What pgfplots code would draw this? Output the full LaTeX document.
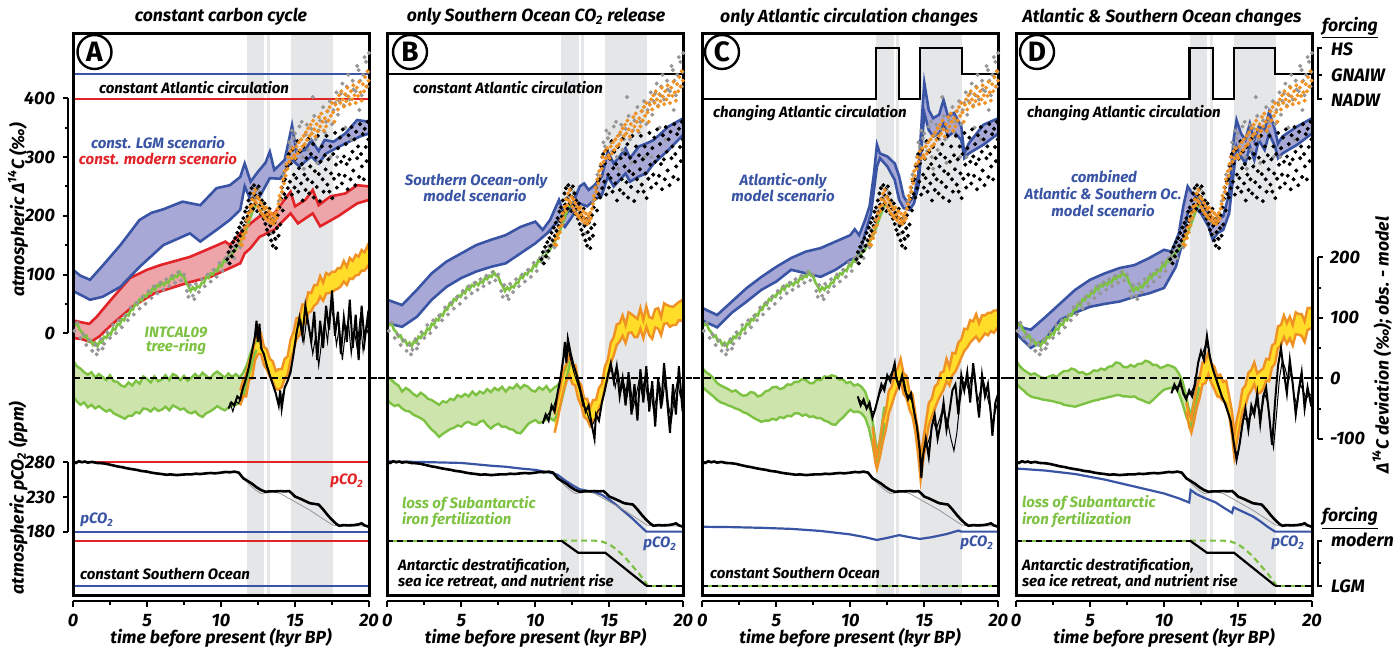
\documentclass[border=0pt]{standalone}
\usepackage{fontspec}
\setmainfont{Fira Sans}
\usepackage{pgfplots}
\pgfplotsset{compat=1.18}
\usepackage{pgfplotstable}
\usepgfplotslibrary{fillbetween}
\definecolor{mblue}{RGB}{57,84,164}
\definecolor{mbluefill}{RGB}{168,168,214}
\definecolor{mred}{RGB}{226,35,40}
\definecolor{mredfill}{RGB}{238,165,170}
\definecolor{mgreen}{RGB}{125,194,66}
\definecolor{mgreenfill}{RGB}{205,228,172}
\definecolor{morange}{RGB}{240,145,35}
\definecolor{myellow}{RGB}{255,221,40}
\definecolor{mgray}{RGB}{150,150,150}
\definecolor{bandgray}{RGB}{229,230,232}
\newcommand\lab{\bfseries\itshape}
\newcommand\ttl{\lab\fontsize{8.8}{9.5}\selectfont}
\newcommand\ann{\lab\fontsize{7.5}{8.5}\selectfont}
\newcommand\tk{\lab\fontsize{9}{10}\selectfont}

\pgfplotstableread[row sep=\\]{x y\\
10.42 126\\ 10.51 138\\ 10.58 119\\ 10.66 147\\ 10.73 131\\ 10.81 155\\ 10.88 140\\ 10.96 162\\ 11.03 149\\ 11.10 171\\ 11.17 158\\ 11.24 180\\ 11.31 166\\ 11.38 188\\ 11.44 174\\ 11.51 196\\ 11.57 183\\ 11.63 207\\ 11.69 191\\ 11.74 214\\ 11.80 199\\ 11.86 226\\ 11.91 207\\ 11.97 238\\ 12.02 219\\ 12.07 247\\ 12.12 229\\ 12.18 212\\ 12.23 252\\ 12.28 236\\ 12.33 221\\ 12.38 245\\ 12.44 208\\ 12.49 232\\ 12.54 250\\ 12.60 217\\ 12.65 238\\ 12.71 203\\ 12.77 226\\ 12.83 212\\ 12.88 195\\ 12.94 221\\ 13.00 186\\ 13.05 205\\ 13.11 176\\ 13.16 198\\ 13.22 168\\ 13.27 212\\ 13.33 183\\ 13.39 158\\ 13.44 194\\ 13.50 149\\ 13.55 172\\ 13.61 188\\ 13.66 161\\ 13.72 145\\ 13.78 179\\ 13.83 201\\ 13.89 166\\ 13.95 214\\ 14.00 185\\ 14.06 229\\ 14.11 248\\ 14.17 209\\ 14.23 259\\ 14.28 237\\
14.32 262\\ 14.38 231\\ 14.47 284\\ 14.52 247\\ 14.58 305\\ 14.66 258\\ 14.71 289\\ 14.79 236\\ 14.83 312\\ 14.92 270\\ 14.97 248\\ 15.04 297\\ 15.09 264\\ 15.16 327\\ 15.22 241\\ 15.27 281\\ 15.33 309\\ 15.41 255\\ 15.46 288\\ 15.52 226\\ 15.58 317\\ 15.63 270\\ 15.71 244\\ 15.77 298\\ 15.84 262\\ 15.89 331\\ 15.96 238\\ 16.03 284\\ 16.08 305\\ 16.16 257\\ 16.22 322\\ 16.27 231\\ 16.34 276\\ 16.41 299\\ 16.47 249\\ 16.55 336\\ 16.61 271\\ 16.68 225\\ 16.73 292\\ 16.81 318\\ 16.87 262\\ 16.93 241\\ 17.01 303\\ 17.07 279\\ 17.13 336\\ 17.19 253\\ 17.26 296\\ 17.32 241\\ 17.39 318\\ 17.44 272\\ 17.52 230\\ 17.58 305\\ 17.64 263\\ 17.71 341\\ 17.77 287\\ 17.83 248\\ 17.91 315\\ 17.97 270\\ 18.04 333\\ 18.11 292\\ 18.17 255\\ 18.23 347\\ 18.31 301\\ 18.36 268\\ 18.43 322\\ 18.49 288\\ 18.56 245\\ 18.62 337\\ 18.69 296\\ 18.75 262\\ 18.82 351\\ 18.88 309\\ 18.94 277\\ 19.01 330\\ 19.07 252\\ 19.13 343\\ 19.20 298\\ 19.26 318\\ 19.33 266\\ 19.39 356\\ 19.46 305\\ 19.52 284\\ 19.58 339\\ 19.65 262\\ 19.71 348\\ 19.78 317\\ 19.84 293\\ 19.90 360\\ 19.96 330\\
}\blackdots
\pgfplotstableread[row sep=\\]{x y\\
10.5 130\\ 10.9 148\\ 11.4 176\\ 11.7 190\\ 11.8 196\\ 12.1 214\\ 12.2 230\\ 12.4 245\\ 12.6 240\\ 12.7 226\\ 12.9 212\\ 13.0 205\\ 13.3 186\\ 13.4 170\\ 13.6 197\\ 13.7 160\\ 13.9 225\\ 14.1 240\\ 14.2 270\\ 14.4 285\\ 14.5 300\\ 14.6 325\\ 14.7 318\\ 14.8 345\\ 14.9 332\\ 15.0 340\\ 15.1 325\\ 15.2 310\\ 15.3 352\\ 15.45 360\\ 15.5 300\\ 15.6 280\\ 15.7 338\\ 15.8 355\\ 15.9 312\\ 16.0 330\\ 16.1 348\\ 16.2 402\\ 16.3 370\\ 16.4 330\\ 16.5 290\\ 16.6 345\\ 16.7 362\\ 16.9 385\\ 17.0 342\\ 17.1 360\\ 17.2 378\\ 17.35 395\\ 17.4 300\\ 17.5 356\\ 17.6 380\\ 17.7 392\\ 17.8 410\\ 17.85 300\\ 17.9 372\\ 18.0 395\\ 18.1 408\\ 18.2 425\\ 18.3 388\\ 18.4 350\\ 18.45 405\\ 18.5 420\\ 18.6 440\\ 18.7 398\\ 18.8 330\\ 18.9 430\\ 18.95 415\\ 19.1 412\\ 19.2 455\\ 19.3 448\\ 19.35 380\\ 19.4 430\\ 19.5 405\\ 19.6 440\\ 19.7 470\\ 19.8 462\\ 19.9 420\\ 19.95 445\\ 20.0 477\\
}\graydots
\pgfplotstableread[row sep=\\]{x y\\
0.1 4\\ 0.3 18\\ 0.5 -8\\ 0.7 -2\\ 0.9 -20\\ 1.1 -12\\ 1.3 -30\\ 1.5 -20\\ 1.7 -28\\ 1.9 -10\\ 2.1 -18\\ 2.3 2\\ 2.5 -8\\ 2.7 14\\ 2.9 0\\ 3.1 22\\ 3.3 10\\ 3.5 30\\ 3.7 22\\ 3.9 44\\ 4.1 32\\ 4.3 52\\ 4.5 42\\ 4.7 62\\ 4.9 50\\ 5.1 72\\ 5.3 60\\ 5.5 80\\ 5.7 68\\ 5.9 86\\ 6.1 74\\ 6.3 92\\ 6.5 80\\ 6.7 98\\ 6.9 86\\ 7.1 104\\ 7.3 90\\ 7.5 100\\ 7.7 72\\ 7.9 82\\ 8.1 64\\ 8.3 84\\ 8.5 70\\ 8.7 92\\ 8.9 80\\ 9.1 100\\ 9.3 88\\ 9.5 108\\ 9.7 96\\ 9.9 120\\ 10.1 106\\ 10.3 128\\ 10.5 120\\ 10.7 140\\ 10.9 128\\ 11.1 150\\ 11.3 146\\ 1.6 -36\\ 2.0 -26\\ 7.8 62\\ 8.2 58\\
}\treedots
\pgfplotstableread[row sep=\\]{x y\\
11.30 152\\ 11.36 160\\ 11.42 150\\ 11.48 168\\ 11.55 162\\ 11.61 180\\ 11.67 172\\ 11.73 192\\ 11.79 184\\ 11.85 204\\ 11.91 196\\ 11.97 215\\ 12.03 208\\ 12.09 228\\ 12.15 218\\ 12.21 238\\ 12.27 226\\ 12.33 244\\ 12.39 222\\ 12.45 232\\ 12.51 215\\ 12.57 228\\ 12.63 209\\ 12.69 222\\ 12.75 204\\ 12.81 216\\ 12.87 200\\ 12.93 211\\ 12.99 196\\ 13.05 214\\ 13.11 202\\ 13.17 192\\ 13.23 208\\ 13.29 197\\ 13.35 188\\ 13.41 204\\ 13.47 193\\ 13.53 186\\ 13.59 200\\ 13.65 191\\ 13.71 205\\ 13.77 196\\ 13.83 212\\ 13.89 220\\ 13.95 234\\ 14.01 228\\ 14.07 248\\ 14.13 241\\ 14.19 262\\ 14.25 255\\ 14.31 276\\ 14.37 268\\ 14.43 288\\ 14.49 280\\ 14.55 300\\ 14.62 292\\ 14.70 310\\ 14.78 298\\ 14.86 315\\ 14.94 303\\ 15.02 298\\ 15.10 318\\ 15.18 306\\ 15.26 325\\ 15.34 312\\ 15.42 330\\ 15.50 318\\ 15.58 336\\ 15.66 322\\ 15.74 342\\ 15.82 329\\ 15.90 349\\ 15.98 336\\ 16.06 355\\ 16.14 340\\ 16.22 362\\ 16.30 347\\ 16.38 335\\ 16.46 356\\ 16.54 344\\ 16.62 368\\ 16.70 352\\ 16.78 374\\ 16.86 360\\ 16.94 345\\ 17.02 366\\ 17.10 352\\ 17.18 378\\ 17.26 362\\ 17.34 385\\ 17.42 370\\ 17.50 392\\ 17.58 376\\ 17.66 360\\ 17.74 389\\ 17.82 398\\ 17.90 381\\ 17.98 405\\ 18.06 392\\ 18.14 412\\ 18.22 398\\ 18.30 386\\ 18.38 407\\ 18.46 395\\ 18.54 418\\ 18.62 403\\ 18.70 390\\ 18.78 412\\ 18.86 398\\ 18.94 422\\ 19.02 405\\ 19.10 392\\ 19.18 418\\ 19.26 404\\ 19.34 428\\ 19.42 410\\ 19.50 396\\ 19.58 424\\ 19.66 412\\ 19.74 436\\ 19.82 420\\ 19.90 446\\ 19.97 430\\
}\orangedots
\pgfplotstableread[row sep=\\]{x y\\
0 20\\ 0.15 14\\ 0.3 16\\ 0.45 6\\ 0.6 2\\ 0.75 -6\\ 0.9 -4\\ 1.05 -14\\ 1.2 -12\\ 1.35 -20\\ 1.5 -16\\ 1.65 -22\\ 1.8 -14\\ 1.95 -16\\ 2.1 -6\\ 2.25 -8\\ 2.4 0\\ 2.55 -2\\ 2.7 8\\ 2.85 6\\ 3.0 16\\ 3.15 14\\ 3.3 24\\ 3.45 22\\ 3.6 32\\ 3.75 30\\ 3.9 40\\ 4.05 40\\ 4.2 50\\ 4.35 48\\ 4.5 58\\ 4.65 56\\ 4.8 64\\ 4.95 62\\ 5.1 70\\ 5.25 68\\ 5.4 78\\ 5.55 74\\ 5.7 82\\ 5.85 80\\ 6.0 86\\ 6.15 82\\ 6.3 88\\ 6.45 86\\ 6.6 94\\ 6.75 92\\ 6.9 98\\ 7.05 96\\ 7.2 104\\ 7.35 98\\ 7.5 96\\ 7.65 86\\ 7.8 80\\ 7.95 72\\ 8.1 78\\ 8.25 74\\ 8.4 80\\ 8.55 78\\ 8.7 86\\ 8.85 86\\ 9.0 96\\ 9.15 94\\ 9.3 102\\ 9.45 100\\ 9.6 108\\ 9.75 106\\ 9.9 116\\ 10.05 114\\ 10.2 124\\ 10.35 122\\ 10.5 132\\ 10.65 130\\ 10.8 138\\ 10.95 140\\ 11.1 148\\ 11.25 152\\ 11.4 160\\ 11.6 170\\ 11.8 184\\ 12.0 198\\ 12.2 212\\ 12.4 222\\
}\treering
\pgfplotstableread[row sep=\\]{x y\\
0 281\\ 0.2 279\\ 0.4 281.5\\ 0.6 280\\ 0.8 281\\ 1.0 279.5\\ 1.3 280.5\\ 1.6 279\\ 2.0 278.5\\ 2.3 277.5\\ 2.6 276\\ 3.0 274\\ 3.3 273\\ 3.6 271.5\\ 4.0 270\\ 4.3 269\\ 4.6 267.5\\ 5.0 266.5\\ 5.3 265\\ 5.6 264\\ 6.0 263\\ 6.3 262\\ 6.6 262.5\\ 7.0 261.5\\ 7.3 262\\ 7.6 262.5\\ 8.0 262.5\\ 8.3 263.5\\ 8.6 263\\ 9.0 264\\ 9.3 264.5\\ 9.6 264\\ 10.0 265\\ 10.3 266\\ 10.6 265.5\\ 10.9 266.5\\ 11.2 265\\ 11.5 257\\ 11.8 253\\ 12.1 249\\ 12.4 244\\ 12.7 240\\ 13.0 237.5\\ 13.3 238\\ 13.6 238\\ 14.0 238.5\\ 14.3 238\\ 14.6 238.5\\ 14.8 235\\ 15.0 230.5\\ 15.3 228\\ 15.6 225\\ 16.0 221\\ 16.3 220\\ 16.6 219\\ 16.9 212\\ 17.2 204\\ 17.5 197\\ 17.8 191\\ 18.0 188.5\\ 18.3 189.5\\ 18.6 189\\ 19.0 189.5\\ 19.3 190.5\\ 19.5 192\\ 19.7 189\\ 20.0 187\\
}\pcoice
\pgfplotstableread[row sep=\\]{x y\\
11.2 265\\ 11.6 255\\ 12.0 246\\ 12.4 239\\ 12.7 235\\ 13.1 236\\ 13.5 237.5\\ 14.0 235\\ 14.5 229\\ 15.0 223\\ 15.5 217\\ 16.0 211\\ 16.5 204\\ 17.0 197\\ 17.5 190\\ 18.0 187.5\\ 19.0 188\\ 20.0 188.5\\
}\pcogray

\pgfplotsset{
 dev/.style={y filter/.expression={-76.6+1.0298*y}},
 pco/.style={y filter/.expression={-219.6+1.1813*(y-280)}},
 circ/.style={y filter/.expression={398.3+43.4*y}},
 sof/.style={y filter/.expression={-429.6+76.6*y}},
 panel/.style={scale only axis, width=148pt, height=281pt, xmin=0, xmax=20,
   ymin=-445.6, ymax=511.1, clip=false, set layers, anchor=south west,
   axis y line=none, ytick=\empty, axis x line*=bottom, axis x line shift=3pt,
   x axis line style={-, line width=1pt},
   every outer x axis line/.append style={-},
   xtick={0,5,10,15,20}, minor xtick={2.5,7.5,12.5,17.5},
   tick align=outside, major tick length=3pt, minor tick length=2pt,
   tick style={black, line width=1pt},
   xticklabel style={font=\tk},
   /pgf/number format/assume math mode=true},
}
\newcommand\bands{%
 \addplot[fill=bandgray, draw=none, on layer=axis background] coordinates {(11.75,-445.6) (12.93,-445.6) (12.93,511.1) (11.75,511.1)} -- cycle;
 \addplot[fill=bandgray, draw=none, on layer=axis background] coordinates {(13.09,-445.6) (13.31,-445.6) (13.31,511.1) (13.09,511.1)} -- cycle;
 \addplot[fill=bandgray, draw=none, on layer=axis background] coordinates {(14.73,-445.6) (17.55,-445.6) (17.55,511.1) (14.73,511.1)} -- cycle;
}
\newcommand\obs{%
 \addplot[only marks, mark=*, mark size=0.8pt, color=mgray, mark options={draw=none, fill=mgray}] table {\treedots};
 \addplot[mgreen, line width=1.3pt] table {\treering};
 \addplot[only marks, mark=*, mark size=0.8pt, color=mgray, mark options={draw=none, fill=mgray}] table {\graydots};
 \addplot[only marks, mark=*, mark size=0.8pt, color=black, mark options={draw=none, fill=black}] table {\blackdots};
 \addplot[only marks, mark=*, mark size=0.8pt, color=morange, mark options={draw=none, fill=morange}] table {\orangedots};
 \addplot[pco, mgray, line width=0.4pt] table {\pcogray};
 \addplot[pco, black, line width=1.3pt] table {\pcoice};
}
\newcommand\frm{\draw[line width=1.5pt] (rel axis cs:0,0) rectangle (rel axis cs:1,1);}
\newcommand\zeroline[2]{\addplot[dev, black, dash pattern=on 3.5pt off 2pt, line width=0.9pt] coordinates {(#1,0) (#2,0)};}
\pgfplotsset{
 gl/.style={dev, mgreen, line width=1.2pt},
 ol/.style={dev, morange, line width=1.2pt},
 bthin/.style={dev, black, line width=0.5pt},
 bthick/.style={dev, black, line width=1pt},
}

\begin{document}
\begin{tikzpicture}
%================ A
\begin{axis}[panel, at={(36.5pt,27.5pt)}]
\bands
\addplot[name path=Ru, mred, line width=1.3pt] coordinates {(0,22) (0.5,19) (1.1,16) (1.6,28) (2.5,55) (3.85,94) (5,108) (5.9,116) (7.9,130) (9.3,145) (10.3,156) (10.6,150) (11.3,170) (12.0,187) (12.6,199) (13.6,204) (14.7,241) (15.0,216) (15.7,227) (16.2,244) (16.6,218) (17.4,233) (18.4,238) (19.2,252) (20,250)};
\addplot[name path=Rl, mred, line width=1.3pt] coordinates {(0,-8) (0.6,-10) (1.2,-15) (1.8,-5) (2.5,12) (4,45) (5.5,68) (7.9,87) (9.3,96) (10.6,111) (11.3,119) (11.6,136) (12,145) (12.6,164) (13.6,176) (14.7,204) (15.2,187) (16.2,204) (16.7,182) (17.9,199) (19.2,221) (20,227)};
\addplot[mredfill] fill between[of=Ru and Rl];
\addplot[name path=Bu, mblue, line width=1.3pt] coordinates {(0,108) (0.5,98) (1.15,91) (2,115) (3.2,150) (4.5,193) (5.3,205) (6.1,211) (7.4,224) (8.6,218) (9.7,247) (10.6,252) (11.3,266) (11.6,289) (12.0,258) (12.5,275) (13.0,290) (13.3,309) (13.6,278) (14.3,295) (14.8,354) (15.1,309) (15.7,312) (16.1,329) (16.6,310) (17.0,329) (17.6,326) (18.4,340) (19.2,363) (20,360)};
\addplot[name path=Bl, mblue, line width=1.3pt] coordinates {(0,72) (1.15,57) (2,62) (3.2,79) (4.5,113) (6.1,150) (7.9,170) (8.6,156) (9.7,176) (10.6,193) (11.3,210) (11.6,250) (12.0,227) (12.6,232) (13.3,264) (14.0,263) (14.8,295) (15.3,284) (16.1,301) (16.6,289) (17.1,306) (18.4,323) (19.4,335) (20,340)};
\addplot[mbluefill] fill between[of=Bu and Bl];
\addplot[gl, name path=Gu] coordinates {(0,30) (0.25,20) (0.5,16) (0.75,10) (1,6) (1.25,10) (1.5,1) (1.75,7) (2,2) (2.25,-3) (2.5,5) (2.75,-5) (3,-6) (3.25,-12) (3.5,-14) (3.75,-7) (4,-12) (4.25,-4) (4.5,-9) (4.75,3) (5,-1) (5.25,-7) (5.5,3) (5.75,-5) (6,-2) (6.25,5) (6.5,-3) (6.75,7) (7,4) (7.25,-3) (7.5,4) (7.75,-4) (8,1) (8.25,7) (8.5,1) (8.75,9) (9,4) (9.25,-1) (9.5,7) (9.75,11) (10,6) (10.25,1) (10.5,8) (10.75,2) (11,7) (11.25,1) (11.5,9) (11.75,22) (12,42) (12.2,54) (12.4,63)};
\addplot[gl, name path=Gl] coordinates {(0,-30) (0.25,-38) (0.5,-44) (0.75,-40) (1,-48) (1.25,-44) (1.5,-50) (1.75,-46) (2,-51) (2.25,-55) (2.5,-52) (2.75,-58) (3,-61) (3.25,-64) (3.5,-67) (3.75,-62) (4,-62) (4.25,-56) (4.5,-58) (4.75,-50) (5,-51) (5.25,-55) (5.5,-49) (5.75,-54) (6,-52) (6.25,-47) (6.5,-53) (6.75,-45) (7,-48) (7.25,-52) (7.5,-50) (7.75,-56) (8,-58) (8.25,-55) (8.5,-61) (8.75,-64) (9,-58) (9.25,-55) (9.5,-51) (9.75,-46) (10,-50) (10.25,-53) (10.5,-49) (10.75,-45) (11,-44) (11.25,-40) (11.5,-30) (11.75,-5) (12,15) (12.2,35) (12.4,47)};
\addplot[mgreenfill] fill between[of=Gu and Gl];
\addplot[ol, name path=Ou] coordinates {(11.3,-20) (11.5,-3) (11.7,6) (11.9,28) (12.1,36) (12.3,64) (12.5,70) (12.7,74) (12.9,52) (13.1,48) (13.3,32) (13.5,28) (13.7,12) (13.9,15) (14.1,15) (14.3,32) (14.5,36) (14.7,64) (14.9,76) (15.1,99) (15.3,101) (15.5,122) (15.7,121) (15.9,142) (16.1,141) (16.3,154) (16.5,154) (16.7,169) (16.9,158) (17.1,174) (17.3,171) (17.5,176) (17.7,176) (17.9,182) (18.1,182) (18.3,194) (18.5,184) (18.7,199) (18.9,194) (19.1,204) (19.3,201) (19.5,212) (19.7,208) (19.9,219) (20,213)};
\addplot[ol, name path=Ol] coordinates {(11.3,-45) (11.5,-30) (11.7,-30) (11.9,-2) (12.1,0) (12.3,30) (12.5,40) (12.7,40) (12.9,22) (13.1,14) (13.3,2) (13.5,-6) (13.7,-18) (13.9,-19) (14.1,-15) (14.3,-2) (14.5,6) (14.7,30) (14.9,46) (15.1,65) (15.3,71) (15.5,88) (15.7,91) (15.9,108) (16.1,111) (16.3,120) (16.5,124) (16.7,135) (16.9,128) (17.1,140) (17.3,141) (17.5,142) (17.7,146) (17.9,148) (18.1,152) (18.3,160) (18.5,154) (18.7,165) (18.9,164) (19.1,170) (19.3,171) (19.5,178) (19.7,178) (19.9,185) (20,181)};
\addplot[myellow] fill between[of=Ou and Ol];
\addplot[bthin] coordinates {(10.6,-40) (10.8,-55) (11.0,-38) (11.2,-42) (11.4,-20) (11.6,-8) (11.8,10) (12.0,35) (12.2,55) (12.35,85) (12.45,65) (12.6,80) (12.8,45) (13.0,30) (13.2,15) (13.4,-5) (13.6,-15) (13.8,-35) (14.0,-40) (14.2,-25) (14.4,-10) (14.6,5) (14.8,25) (15.0,55) (15.2,85) (15.4,95) (15.6,60) (15.8,100) (16.0,75) (16.2,40) (16.4,70) (16.6,20) (16.8,60) (17.0,95) (17.2,60) (17.4,120) (17.6,100) (17.8,55) (18.0,85) (18.2,30) (18.4,75) (18.6,95) (18.8,40) (19.0,80) (19.2,50) (19.4,100) (19.6,45) (19.8,85) (20,70)};
\addplot[bthick] coordinates {(10.5,-50) (10.7,-40) (10.9,-45) (11.1,-30) (11.3,-35) (11.5,-15) (11.7,0) (11.9,20) (12.1,45) (12.3,70) (12.4,95) (12.5,60) (12.6,90) (12.7,50) (12.9,40) (13.1,20) (13.3,5) (13.5,-10) (13.7,-25) (13.9,-45) (14.0,-20) (14.1,-50) (14.3,-15) (14.5,-5) (14.7,10) (14.9,40) (15.1,75) (15.3,100) (15.5,70) (15.7,120) (15.9,90) (16.1,60) (16.3,110) (16.5,30) (16.7,95) (16.9,50) (17.1,120) (17.3,80) (17.5,145) (17.7,70) (17.9,110) (18.1,40) (18.3,100) (18.5,60) (18.7,130) (18.9,50) (19.1,105) (19.3,30) (19.5,120) (19.7,60) (19.9,100) (20,80)};
\addplot[pco, mred, line width=1.1pt] coordinates {(0,280) (20,280)};
\addplot[pco, mblue, line width=1.1pt] coordinates {(0,180) (20,180)};
\addplot[circ, mblue, line width=1.1pt] coordinates {(0,1) (20,1)};
\addplot[circ, mred, line width=1.1pt] coordinates {(0,0) (20,0)};
\addplot[sof, mred, line width=1.1pt] coordinates {(0,1) (20,1)};
\addplot[sof, mblue, line width=1.1pt] coordinates {(0,0) (20,0)};
\obs
\zeroline{0}{20.6}
\frm
\end{axis}
%================ B
\begin{axis}[panel, at={(193.65pt,27.5pt)}]
\bands
\addplot[name path=Bu, mblue, line width=1.3pt] coordinates {(0,57) (1,48) (2,74) (3,102) (4,122) (5,136) (6,150) (7,159) (8,167) (9,181) (10,190) (10.5,176) (11,193) (11.6,227) (12,199) (12.5,218) (13,250) (13.3,255) (13.6,244) (14,252) (14.5,267) (14.9,309) (15.3,289) (15.7,301) (16.1,315) (16.4,298) (17,318) (17.5,323) (18,329) (19,352) (20,366)};
\addplot[name path=Bl, mblue, line width=1.3pt] coordinates {(0,17) (1,11) (2,28) (3,57) (4,79) (5,94) (6,105) (7,113) (8,119) (9,136) (10,153) (10.8,170) (11.6,193) (12,181) (12.5,199) (13,221) (13.5,216) (14,227) (14.5,235) (14.9,267) (15.3,250) (15.7,261) (16.1,272) (16.4,258) (17,267) (17.5,272) (18,289) (19,312) (20,338)};
\addplot[mbluefill] fill between[of=Bu and Bl];
\addplot[gl, name path=Gu] coordinates {(0,3) (0.25,-2) (0.5,-8) (0.75,-12) (1,-22) (1.25,-16) (1.5,-20) (1.75,-26) (2,-30) (2.25,-24) (2.5,-28) (2.75,-34) (3,-36) (3.25,-40) (3.5,-44) (3.75,-38) (4,-40) (4.25,-34) (4.5,-36) (4.75,-28) (5,-31) (5.25,-26) (5.5,-30) (5.75,-22) (6,-28) (6.25,-22) (6.5,-25) (6.75,-18) (7,-23) (7.25,-16) (7.5,-20) (7.75,-14) (8,-22) (8.25,-15) (8.5,-17) (8.75,-10) (9,-17) (9.25,-11) (9.5,-14) (9.75,-20) (10,-22) (10.25,-15) (10.5,-19) (10.75,-13) (11,-22) (11.25,-16) (11.5,-12) (11.75,-3) (12,15) (12.2,28) (12.4,41)};
\addplot[gl, name path=Gl] coordinates {(0,-36) (0.25,-42) (0.5,-46) (0.75,-44) (1,-50) (1.25,-54) (1.5,-55) (1.75,-60) (2,-63) (2.25,-66) (2.5,-70) (2.75,-78) (3,-85) (3.25,-90) (3.5,-97) (3.75,-92) (4,-88) (4.25,-84) (4.5,-82) (4.75,-78) (5,-80) (5.25,-74) (5.5,-72) (5.75,-76) (6,-77) (6.25,-72) (6.5,-70) (6.75,-78) (7,-83) (7.25,-78) (7.5,-75) (7.75,-80) (8,-80) (8.25,-84) (8.5,-85) (8.75,-90) (9,-91) (9.25,-84) (9.5,-76) (9.75,-72) (10,-69) (10.25,-74) (10.5,-72) (10.75,-68) (11,-66) (11.25,-70) (11.5,-60) (11.75,-40) (12,-14) (12.2,10) (12.4,30)};
\addplot[mgreenfill] fill between[of=Gu and Gl];
\addplot[ol, name path=Ou] coordinates {(11.3,-60) (11.5,-36) (11.7,-14) (11.9,14) (12.1,24) (12.3,39) (12.5,21) (12.7,22) (12.9,-4) (13.1,-11) (13.3,-34) (13.5,-34) (13.7,-49) (13.9,-36) (14.1,-36) (14.3,-16) (14.5,-9) (14.7,19) (14.9,31) (15.1,59) (15.3,68) (15.5,89) (15.7,91) (15.9,104) (16.1,88) (16.3,109) (16.5,106) (16.7,102) (16.9,98) (17.1,116) (17.3,96) (17.5,119) (17.7,101) (17.9,99) (18.1,114) (18.3,116) (18.5,101) (18.7,124) (18.9,121) (19.1,119) (19.3,118) (19.5,122) (19.7,126) (19.9,129) (20,126)};
\addplot[ol, name path=Ol] coordinates {(11.3,-90) (11.5,-70) (11.7,-44) (11.9,-20) (12.1,-6) (12.3,5) (12.5,-9) (12.7,-12) (12.9,-34) (13.1,-45) (13.3,-64) (13.5,-68) (13.7,-79) (13.9,-70) (14.1,-66) (14.3,-50) (14.5,-39) (14.7,-15) (14.9,1) (15.1,25) (15.3,38) (15.5,55) (15.7,61) (15.9,70) (16.1,58) (16.3,75) (16.5,76) (16.7,68) (16.9,68) (17.1,82) (17.3,66) (17.5,85) (17.7,71) (17.9,65) (18.1,84) (18.3,82) (18.5,71) (18.7,90) (18.9,91) (19.1,85) (19.3,88) (19.5,88) (19.7,96) (19.9,95) (20,96)};
\addplot[myellow] fill between[of=Ou and Ol];
\addplot[bthin] coordinates {(10.6,-70) (10.8,-62) (11.0,-55) (11.2,-50) (11.4,-35) (11.6,-15) (11.8,15) (12.0,45) (12.2,50) (12.4,30) (12.6,10) (12.8,-5) (13.0,-20) (13.2,-45) (13.4,-50) (13.6,-65) (13.8,-80) (14.0,-70) (14.2,-55) (14.4,-50) (14.6,-30) (14.8,-10) (15.0,10) (15.2,15) (15.4,-15) (15.6,10) (15.8,-20) (16.0,-10) (16.2,-30) (16.4,-5) (16.6,-50) (16.8,-30) (17.0,-5) (17.2,-25) (17.4,0) (17.6,-35) (17.8,-20) (18.0,-55) (18.2,-30) (18.4,-10) (18.6,-40) (18.8,5) (19.0,-45) (19.2,-70) (19.4,-30) (19.6,-5) (19.8,-30) (20,-15)};
\addplot[bthick] coordinates {(10.5,-75) (10.7,-60) (10.9,-70) (11.1,-45) (11.3,-55) (11.5,-25) (11.7,0) (11.9,35) (12.0,60) (12.1,25) (12.2,65) (12.4,40) (12.6,20) (12.8,5) (13.0,-15) (13.2,-35) (13.4,-55) (13.6,-45) (13.8,-75) (14.0,-100) (14.1,-60) (14.3,-70) (14.5,-40) (14.7,-20) (14.9,5) (15.1,25) (15.3,-5) (15.5,20) (15.7,-30) (15.9,0) (16.1,-45) (16.3,10) (16.5,-60) (16.7,-10) (16.9,-70) (17.1,15) (17.3,-40) (17.5,20) (17.7,-55) (17.9,-5) (18.1,-80) (18.3,0) (18.5,-50) (18.7,25) (18.9,-35) (19.1,-90) (19.3,-10) (19.5,-60) (19.7,20) (19.9,-40) (20,-20)};
\addplot[pco, mblue, line width=1.1pt] coordinates {(0,281) (2,280.5) (4,279.5) (5,279) (6,277) (7,275) (8,273.5) (9,271) (10,269) (11,265) (11.5,262) (12,254) (12.5,247) (13,241) (13.5,239) (14,237) (14.5,233) (15,226) (15.5,218) (16,209) (16.5,200) (17,190) (17.5,180) (20,180)};
\addplot[circ, black, line width=1.1pt] coordinates {(0,1) (20,1)};
\addplot[sof, mgreen, line width=1.1pt] coordinates {(0,1) (11.75,1)};
\addplot[sof, mgreen, line width=1.1pt, dash pattern=on 3pt off 2pt] coordinates {(11.75,1) (14,1) (14.5,0.98) (15,0.92) (15.5,0.8) (16,0.65) (16.5,0.46) (17,0.27) (17.3,0.14) (17.6,0)};
\addplot[sof, mgreen, line width=1.1pt] coordinates {(17.5,0) (20,0)};
\addplot[sof, black, line width=1.1pt, dash pattern=on 3pt off 2pt] coordinates {(0,1) (11.75,1)};
\addplot[sof, black, line width=1.1pt] coordinates {(11.75,1) (12.9,0.73) (14.73,0.73) (17.5,0)};
\addplot[sof, black, line width=1.1pt, dash pattern=on 3pt off 2pt] coordinates {(17.5,0) (20,0)};
\obs
\zeroline{-0.6}{20.6}
\frm
\end{axis}
%================ C
\begin{axis}[panel, at={(351.15pt,27.5pt)}]
\bands
\addplot[name path=Bu, mblue, line width=1.3pt] coordinates {(0,43) (1,31) (2,54) (3,77) (4,96) (5,113) (6,128) (7,139) (8,145) (9,156) (10,167) (10.3,177) (10.6,167) (11,193) (11.3,216) (11.6,272) (11.8,321) (12,306) (12.5,301) (13,289) (13.3,267) (13.6,233) (13.9,221) (14.3,233) (14.6,272) (14.8,352) (15.0,426) (15.3,380) (15.6,366) (16,372) (16.3,397) (16.6,369) (17,375) (17.5,352) (17.7,306) (18,323) (19,355) (20,366)};
\addplot[name path=Bl, mblue, line width=1.3pt] coordinates {(0,22) (1,10) (2,35) (3,54) (4,74) (5,88) (6,108) (7,102) (8,96) (9,108) (10,125) (10.6,130) (11,170) (11.4,204) (11.8,284) (12,298) (12.5,284) (13,261) (13.3,227) (13.6,213) (14,210) (14.3,221) (14.6,250) (14.8,312) (15.0,375) (15.3,346) (15.6,335) (16,340) (16.3,357) (16.6,335) (17,343) (17.5,329) (17.7,298) (18,306) (19,321) (20,340)};
\addplot[mbluefill] fill between[of=Bu and Bl];
\addplot[gl, name path=Gu] coordinates {(0,17) (0.25,10) (0.5,6) (0.75,0) (1,-8) (1.25,-12) (1.5,-15) (1.75,-18) (2,-22) (2.25,-20) (2.5,-25) (2.75,-29) (3,-28) (3.25,-23) (3.5,-24) (3.75,-30) (4,-28) (4.25,-22) (4.5,-20) (4.75,-15) (5,-14) (5.25,-18) (5.5,-16) (5.75,-10) (6,-11) (6.25,-6) (6.5,-6) (6.75,-1) (7,-3) (7.25,-8) (7.5,-8) (7.75,-2) (8,-3) (8.25,3) (8.5,2) (8.75,5) (9,3) (9.25,-2) (9.5,-2) (9.75,-8) (10,-6) (10.25,-12) (10.5,-10) (10.75,-14) (11,-22) (11.25,-40) (11.5,-70) (11.65,-95) (11.8,-124) (12,-102) (12.15,-75) (12.3,-47)};
\addplot[gl, name path=Gl] coordinates {(0,-14) (0.25,-20) (0.5,-25) (0.75,-30) (1,-36) (1.25,-40) (1.5,-42) (1.75,-45) (2,-47) (2.25,-50) (2.5,-52) (2.75,-56) (3,-58) (3.25,-62) (3.5,-66) (3.75,-69) (4,-72) (4.25,-70) (4.5,-70) (4.75,-67) (5,-69) (5.25,-64) (5.5,-66) (5.75,-62) (6,-63) (6.25,-58) (6.5,-58) (6.75,-62) (7,-60) (7.25,-64) (7.5,-63) (7.75,-66) (8,-66) (8.25,-70) (8.5,-72) (8.75,-76) (9,-77) (9.25,-70) (9.5,-65) (9.75,-58) (10,-52) (10.25,-56) (10.5,-55) (10.75,-58) (11,-65) (11.25,-82) (11.5,-110) (11.65,-130) (11.8,-146) (12,-124) (12.15,-100) (12.3,-74)};
\addplot[mgreenfill] fill between[of=Gu and Gl];
\addplot[ol, name path=Ou] coordinates {(11.5,-80) (11.7,-115) (11.8,-128) (12.0,-105) (12.2,-71) (12.4,-54) (12.6,-21) (12.8,-14) (13.0,9) (13.2,16) (13.4,32) (13.6,8) (13.8,4) (14.0,-22) (14.2,-26) (14.4,-59) (14.6,-91) (14.75,-130) (14.9,-106) (15.1,-74) (15.3,-41) (15.5,-34) (15.7,-14) (15.9,-9) (16.1,9) (16.3,11) (16.5,32) (16.7,18) (16.9,42) (17.1,41) (17.3,59) (17.5,64) (17.7,82) (17.9,81) (18.1,96) (18.3,94) (18.5,106) (18.7,91) (18.9,104) (19.1,104) (19.3,108) (19.5,108) (19.7,112) (19.9,112) (20,115)};
\addplot[ol, name path=Ol] coordinates {(11.5,-100) (11.7,-140) (11.8,-150) (12.0,-130) (12.2,-105) (12.4,-85) (12.6,-58) (12.8,-44) (13.0,-28) (13.2,-16) (13.4,-5) (13.6,-26) (13.8,-33) (14.0,-52) (14.2,-63) (14.4,-90) (14.6,-130) (14.75,-168) (14.9,-140) (15.1,-108) (15.3,-78) (15.5,-64) (15.7,-51) (15.9,-38) (16.1,-28) (16.3,-19) (16.5,-5) (16.7,-12) (16.9,5) (17.1,11) (17.3,22) (17.5,34) (17.7,45) (17.9,51) (18.1,59) (18.3,64) (18.5,69) (18.7,61) (18.9,67) (19.1,74) (19.3,71) (19.5,78) (19.7,75) (19.9,82) (20,80)};
\addplot[myellow] fill between[of=Ou and Ol];
\addplot[bthin] coordinates {(10.6,-35) (10.8,-40) (11.0,-45) (11.2,-45) (11.4,-55) (11.6,-55) (11.8,-40) (12.0,-25) (12.2,-15) (12.4,-5) (12.6,0) (12.8,10) (13.0,15) (13.2,-5) (13.4,-5) (13.6,0) (13.8,-25) (14.0,-30) (14.2,-40) (14.4,-65) (14.6,-100) (14.8,-150) (15.0,-115) (15.2,-110) (15.4,-95) (15.6,-70) (15.8,-85) (16.0,-70) (16.2,-55) (16.4,-60) (16.6,-75) (16.8,-100) (17.0,-120) (17.2,-90) (17.4,-40) (17.6,-10) (17.8,-5) (18.0,-20) (18.2,5) (18.4,10) (18.6,-40) (18.8,-20) (19.0,-5) (19.2,-25) (19.4,-45) (19.6,-75) (19.8,-55) (20,-35)};
\addplot[bthick] coordinates {(10.5,-30) (10.7,-45) (10.9,-35) (11.1,-50) (11.3,-40) (11.5,-65) (11.7,-50) (11.9,-30) (12.1,-10) (12.3,-20) (12.5,5) (12.7,-5) (12.9,15) (13.0,25) (13.1,0) (13.3,-15) (13.5,5) (13.7,-20) (13.9,-35) (14.1,-25) (14.3,-55) (14.5,-80) (14.7,-120) (14.8,-165) (14.9,-130) (15.1,-100) (15.3,-130) (15.5,-80) (15.7,-60) (15.9,-100) (16.1,-75) (16.3,-40) (16.5,-85) (16.7,-55) (16.9,-20) (17.1,-10) (17.3,-60) (17.5,5) (17.7,-20) (17.9,10) (18.1,-40) (18.3,25) (18.5,-20) (18.7,-65) (18.9,5) (19.1,-30) (19.3,-10) (19.5,-60) (19.6,-95) (19.8,-40) (20,-25)};
\addplot[pco, mblue, line width=1.1pt] coordinates {(0,187) (2,186.5) (4,185.5) (6,184) (8,181) (10,176) (11,172) (11.8,168) (12.5,171) (13.3,175) (14,172) (14.7,169.5) (15.5,172) (16.5,176.5) (17.3,181.5) (17.5,180) (20,180)};
\addplot[circ, black, line width=1.1pt] coordinates {(0,0) (11.72,0) (11.72,2) (13.3,2) (13.3,0) (14.71,0) (14.71,2) (17.52,2) (17.52,1) (20,1)};
\addplot[sof, mgreen, line width=1.1pt] coordinates {(0,0) (20,0)};
\addplot[sof, black, line width=1.1pt, dash pattern=on 3pt off 2pt] coordinates {(0,0) (20,0)};
\obs
\zeroline{-0.6}{20.6}
\frm
\end{axis}
%================ D
\begin{axis}[panel, at={(508pt,27.5pt)}]
\bands
\addplot[name path=Bu, mblue, line width=1.3pt] coordinates {(0,20) (0.5,9) (1,6) (2,28) (3,51) (4,74) (5,91) (6,102) (7,111) (8,116) (9,128) (10,142) (10.5,139) (11,170) (11.3,216) (11.6,250) (11.9,238) (12.5,227) (13,204) (13.3,182) (13.6,193) (14,199) (14.4,238) (14.7,329) (14.9,363) (15.2,340) (15.5,329) (15.8,357) (16.1,329) (16.4,352) (16.8,346) (17.1,377) (17.5,346) (17.7,323) (18,335) (19,352) (20,366)};
\addplot[name path=Bl, mblue, line width=1.3pt] coordinates {(0,0) (1,-25) (2,-10) (3,23) (4,35) (5,45) (6,50) (7,54) (8,62) (9,68) (10,77) (10.8,113) (11.3,159) (11.6,204) (12,216) (12.5,204) (13,182) (13.3,159) (13.6,170) (14,176) (14.4,204) (14.7,272) (14.9,318) (15.2,301) (15.5,289) (15.8,318) (16.1,295) (16.4,329) (16.8,312) (17.1,340) (17.5,318) (17.7,298) (18,306) (19,321) (20,340)};
\addplot[mbluefill] fill between[of=Bu and Bl];
\addplot[gl, name path=Gu] coordinates {(0,30) (0.25,20) (0.5,14) (0.75,10) (1,6) (1.25,8) (1.5,4) (1.75,1) (2,0) (2.25,3) (2.5,5) (2.75,2) (3,8) (3.25,12) (3.5,12) (3.75,16) (4,14) (4.25,9) (4.5,10) (4.75,6) (5,8) (5.25,13) (5.5,12) (5.75,16) (6,14) (6.25,19) (6.5,20) (6.75,26) (7,25) (7.25,19) (7.5,18) (7.75,22) (8,19) (8.25,24) (8.5,24) (8.75,29) (9,27) (9.25,22) (9.5,22) (9.75,17) (10,19) (10.25,22) (10.5,20) (10.75,17) (11,8) (11.25,-5) (11.5,-30) (11.65,-48) (11.8,-63) (12,-40) (12.2,-15) (12.4,3)};
\addplot[gl, name path=Gl] coordinates {(0,-8) (0.25,-15) (0.5,-20) (0.75,-26) (1,-30) (1.25,-32) (1.5,-33) (1.75,-35) (2,-36) (2.25,-37) (2.5,-38) (2.75,-40) (3,-41) (3.25,-44) (3.5,-45) (3.75,-46) (4,-47) (4.25,-45) (4.5,-43) (4.75,-41) (5,-39) (5.25,-37) (5.5,-36) (5.75,-34) (6,-33) (6.25,-31) (6.5,-30) (6.75,-28) (7,-28) (7.25,-30) (7.5,-30) (7.75,-31) (8,-30) (8.25,-34) (8.5,-36) (8.75,-39) (9,-41) (9.25,-36) (9.5,-30) (9.75,-24) (10,-19) (10.25,-17) (10.5,-16) (10.75,-14) (11,-25) (11.25,-42) (11.5,-63) (11.65,-72) (11.8,-80) (12,-60) (12.2,-35) (12.4,-14)};
\addplot[mgreenfill] fill between[of=Gu and Gl];
\addplot[ol, name path=Ou] coordinates {(11.5,-40) (11.7,-60) (11.85,-68) (12.0,-45) (12.2,-16) (12.4,1) (12.6,26) (12.8,28) (13.0,44) (13.2,24) (13.4,19) (13.6,4) (13.8,6) (14.0,-6) (14.2,-4) (14.4,-29) (14.6,-56) (14.75,-95) (14.9,-71) (15.1,-49) (15.3,-18) (15.5,-12) (15.7,9) (15.9,14) (16.1,26) (16.3,8) (16.5,12) (16.7,16) (16.9,32) (17.1,31) (17.3,54) (17.5,58) (17.7,86) (17.9,88) (18.1,104) (18.3,91) (18.5,102) (18.7,88) (18.9,109) (19.1,106) (19.3,106) (19.5,94) (19.7,116) (19.9,116) (20,118)};
\addplot[ol, name path=Ol] coordinates {(11.5,-55) (11.7,-80) (11.85,-90) (12.0,-75) (12.2,-50) (12.4,-33) (12.6,-10) (12.8,-8) (13.0,6) (13.2,-8) (13.4,-18) (13.6,-30) (13.8,-32) (14.0,-38) (14.2,-42) (14.4,-62) (14.6,-95) (14.75,-130) (14.9,-108) (15.1,-82) (15.3,-55) (15.5,-45) (15.7,-28) (15.9,-20) (16.1,-10) (16.3,-26) (16.5,-24) (16.7,-18) (16.9,-4) (17.1,-5) (17.3,18) (17.5,24) (17.7,50) (17.9,54) (18.1,68) (18.3,57) (18.5,66) (18.7,54) (18.9,73) (19.1,72) (19.3,70) (19.5,60) (19.7,80) (19.9,82) (20,82)};
\addplot[myellow] fill between[of=Ou and Ol];
\addplot[bthin] coordinates {(10.6,-20) (10.8,-15) (11.0,-12) (11.2,-15) (11.4,-28) (11.6,-28) (11.8,-25) (12.0,-15) (12.2,10) (12.4,35) (12.6,40) (12.8,55) (13.0,50) (13.2,25) (13.4,8) (13.6,-5) (13.8,-20) (14.0,-35) (14.2,-48) (14.4,-62) (14.6,-85) (14.8,-120) (15.0,-125) (15.2,-95) (15.4,-65) (15.6,-70) (15.8,-65) (16.0,-55) (16.2,-40) (16.4,-50) (16.6,-55) (16.8,-25) (17.0,-40) (17.2,-85) (17.4,-115) (17.6,-60) (17.8,0) (18.0,30) (18.2,15) (18.4,-5) (18.6,10) (18.8,-30) (19.0,-45) (19.2,-10) (19.4,-20) (19.6,-35) (19.8,-25) (20,-30)};
\addplot[bthick] coordinates {(10.5,-25) (10.7,-10) (10.9,-20) (11.1,-5) (11.3,-25) (11.5,-35) (11.7,-20) (11.9,-30) (12.1,-10) (12.3,25) (12.5,45) (12.7,30) (12.9,70) (13.1,35) (13.3,15) (13.5,0) (13.7,-15) (13.9,-30) (14.1,-40) (14.3,-55) (14.5,-70) (14.7,-105) (14.9,-135) (15.1,-110) (15.3,-75) (15.5,-50) (15.7,-85) (15.9,-45) (16.1,-60) (16.3,-25) (16.5,-75) (16.7,-30) (16.9,-15) (17.1,-60) (17.3,-110) (17.5,-40) (17.7,20) (17.9,50) (18.1,10) (18.3,-25) (18.5,30) (18.7,-10) (18.9,-60) (19.1,-20) (19.3,10) (19.5,-50) (19.7,-15) (19.9,-40) (20,-30)};
\addplot[pco, mblue, line width=1.1pt] coordinates {(0,271) (2,268) (4,263) (5,259) (6,255) (7,250) (8,245) (9,240) (10,235) (11,228) (11.7,222) (11.8,240) (12.2,234) (12.8,228) (13.5,222) (14,215) (14.6,207) (14.7,215) (15.2,210) (16,202) (16.5,195) (17,187) (17.5,180) (20,180)};
\addplot[circ, black, line width=1.1pt] coordinates {(0,0) (11.72,0) (11.72,2) (13.3,2) (13.3,0) (14.71,0) (14.71,2) (17.52,2) (17.52,1) (20,1)};
\addplot[sof, mgreen, line width=1.1pt] coordinates {(0,1) (11.75,1)};
\addplot[sof, mgreen, line width=1.1pt, dash pattern=on 3pt off 2pt] coordinates {(11.75,1) (14,1) (14.5,0.98) (15,0.92) (15.5,0.8) (16,0.65) (16.5,0.46) (17,0.27) (17.3,0.14) (17.6,0)};
\addplot[sof, mgreen, line width=1.1pt] coordinates {(17.5,0) (20,0)};
\addplot[sof, black, line width=1.1pt, dash pattern=on 3pt off 2pt] coordinates {(0,1) (11.75,1)};
\addplot[sof, black, line width=1.1pt] coordinates {(11.75,1) (12.9,0.73) (14.73,0.73) (17.5,0)};
\addplot[sof, black, line width=1.1pt, dash pattern=on 3pt off 2pt] coordinates {(17.5,0) (20,0)};
\obs
\zeroline{-0.6}{20.4}
\frm
\end{axis}

%================ annotations (pixel coordinates)
\begin{scope}[x=0.5pt,y=-0.5pt,yshift=325pt]
\node[font=\ttl] at (221,17) {constant carbon cycle};
\node[font=\ttl] at (536,17) {only Southern Ocean CO\textsubscript{2} release};
\node[font=\ttl] at (849,17) {only Atlantic circulation changes};
\node[font=\ttl] at (1162,17) {Atlantic \& Southern Ocean changes};
\foreach \c in {221,535.5,850,1164} \node[font=\ttl] at (\c,638) {time before present (kyr BP)};
\foreach \cx/\l in {94.5/A,410/B,722/C,1037/D}
  \node[circle, draw, line width=1.2pt, minimum size=17pt, inner sep=0pt, font=\bfseries\fontsize{14}{14}\selectfont] at (\cx,52) {\l};
\draw[line width=1pt] (68,98.3) -- (68,333.3);
\foreach \v in {0,100,200,300,400} {\draw[line width=1pt] (68,{333.3-0.5875*\v}) -- (63,{333.3-0.5875*\v});
  \node[font=\tk, anchor=east] at (62,{333.3-0.5875*\v}) {\v};}
\foreach \v in {50,150,250,350} \draw[line width=1pt] (68,{333.3-0.5875*\v}) -- (65,{333.3-0.5875*\v});
\draw[line width=1pt] (68,462.3) -- (68,531.7);
\foreach \p in {280,230,180} {\draw[line width=1pt] (68,{462.3-0.694*(\p-280)}) -- (63,{462.3-0.694*(\p-280)});
  \node[font=\tk, anchor=east] at (62,{462.3-0.694*(\p-280)}) {\p};}
\node[font=\ttl, rotate=90] at (18,210) {atmospheric Δ\textsuperscript{14}C (‰)};
\node[font=\ttl, rotate=90] at (18,498) {atmospheric pCO\textsubscript{2} (ppm)};
\node[font=\ttl] at (1350,28) {\underline{forcing}};
\draw[line width=1pt] (1322,48.3) -- (1318,48.3) -- (1318,99.3) -- (1322,99.3);
\draw[line width=1pt] (1318,75) -- (1322,75);
\node[font=\tk, anchor=west] at (1324,49) {HS};
\node[font=\tk, anchor=west] at (1324,75) {GNAIW};
\node[font=\tk, anchor=west] at (1324,100) {NADW};
\draw[line width=1pt] (1318,257.3) -- (1318,438.8);
\foreach \d in {200,100,0,-100} {\draw[line width=1pt] (1318,{378.3-0.605*\d}) -- (1323,{378.3-0.605*\d});
  \node[font=\tk, anchor=west] at (1323,{378.3-0.605*\d}) {\d};}
\foreach \d in {150,50,-50} \draw[line width=1pt] (1318,{378.3-0.605*\d}) -- (1321,{378.3-0.605*\d});
\node[font=\ttl, rotate=90] at (1382,345) {Δ\textsuperscript{14}C deviation (‰); obs. - model};
\node[font=\ttl] at (1350,518) {\underline{forcing}};
\draw[line width=1pt] (1322,540.7) -- (1318,540.7) -- (1318,585.7) -- (1322,585.7);
\draw[line width=1pt] (1318,563) -- (1321,563);
\node[font=\tk, anchor=west] at (1324,540) {modern};
\node[font=\tk, anchor=west] at (1324,586) {LGM};
\node[font=\ann] at (194,88) {constant Atlantic circulation};
\node[font=\ann, text=mblue] at (158,143) {const. LGM scenario};
\node[font=\ann, text=mred] at (158,159) {const. modern scenario};
\node[font=\ann, text=mgreen] at (176,332) {INTCAL09};
\node[font=\ann, text=mgreen] at (176,347) {tree-ring};
\node[font=\ann, text=mred] at (347,481) {pCO\textsubscript{2}};
\node[font=\ann, text=mblue] at (97,520) {pCO\textsubscript{2}};
\node[font=\ann] at (165,574) {constant Southern Ocean};
\node[font=\ann] at (508,88) {constant Atlantic circulation};
\node[font=\ann, text=mblue] at (476,181) {Southern Ocean-only};
\node[font=\ann, text=mblue] at (475,196) {model scenario};
\node[font=\ann, text=mgreen, anchor=west] at (395,504) {loss of Subantarctic};
\node[font=\ann, text=mgreen, anchor=west] at (395,520) {iron fertilization};
\node[font=\ann, text=mblue] at (660,544) {pCO\textsubscript{2}};
\node[font=\ann, anchor=west] at (391,566) {Antarctic destratification,};
\node[font=\ann, anchor=west] at (391,582) {sea ice retreat, and nutrient rise};
\node[font=\ann, anchor=west] at (706,113) {changing Atlantic circulation};
\node[font=\ann, text=mblue] at (783,181) {Atlantic-only};
\node[font=\ann, text=mblue] at (783,196) {model scenario};
\node[font=\ann, text=mblue] at (977,543) {pCO\textsubscript{2}};
\node[font=\ann, anchor=west] at (703,573) {constant Southern Ocean};
\node[font=\ann, anchor=west] at (1020,113) {changing Atlantic circulation};
\node[font=\ann, text=mblue] at (1104,177) {combined};
\node[font=\ann, text=mblue] at (1103,194) {Atlantic \& Southern Oc.};
\node[font=\ann, text=mblue] at (1103,211) {model scenario};
\node[font=\ann, text=mgreen, anchor=west] at (1015,503) {loss of Subantarctic};
\node[font=\ann, text=mgreen, anchor=west] at (1015,520) {iron fertilization};
\node[font=\ann, text=mblue] at (1288,543) {pCO\textsubscript{2}};
\node[font=\ann, anchor=west] at (1015,566) {Antarctic destratification,};
\node[font=\ann, anchor=west] at (1015,582) {sea ice retreat, and nutrient rise};
\end{scope}
\pgfresetboundingbox
\path[use as bounding box] (0,0) rectangle (700pt,325pt);
\end{tikzpicture}
\end{document}
